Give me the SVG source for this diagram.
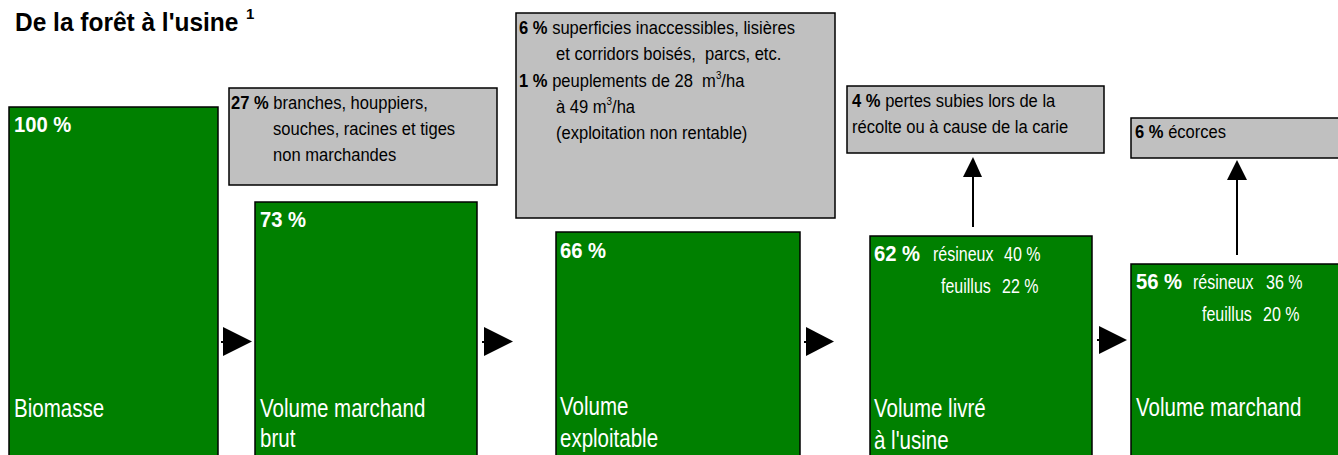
<svg xmlns="http://www.w3.org/2000/svg" width="1338" height="455" viewBox="0 0 1338 455">
<style>
text{font-family:"Liberation Sans",Arial,sans-serif;}
.g{fill:#008000;stroke:#000;stroke-width:1.5}
.s{fill:#c0c0c0;stroke:#000;stroke-width:1.5}
.gt{fill:#fff;font-size:25.5px}
.gb{fill:#fff;font-size:22px;font-weight:bold}
.gs{fill:#fff;font-size:20px}
.st{fill:#000;font-size:18.5px}
.b{font-weight:bold}
.ln{stroke:#000;stroke-width:2;fill:none}
</style>
<text transform="translate(15,31) scale(0.96,1)" style="font-size:25.5px;font-weight:bold;fill:#000">De la forêt à l'usine</text>
<text x="246" y="19" style="font-size:15px;font-weight:bold;fill:#000">1</text>

<g id="n1">
<rect class="g" x="9" y="107" width="209" height="370"/>
<text class="gb" transform="translate(14,132) scale(0.92,1)">100 %</text>
<text class="gt" transform="translate(14,417) scale(0.805,1)">Biomasse</text>
</g>
<g id="l1">
<rect class="s" x="229" y="88" width="268" height="97"/>
<text class="st" transform="translate(231,109) scale(0.895,1)"><tspan class="b">27 %</tspan> branches, houppiers,</text>
<text class="st" transform="translate(273,135) scale(0.895,1)">souches, racines et tiges</text>
<text class="st" transform="translate(273,161) scale(0.895,1)">non marchandes</text>
</g>
<g id="n2">
<rect class="g" x="255" y="202" width="222" height="275"/>
<text class="gb" transform="translate(260,227) scale(0.92,1)">73 %</text>
<text class="gt" transform="translate(260,417) scale(0.805,1)">Volume marchand</text>
<text class="gt" transform="translate(260,447) scale(0.805,1)">brut</text>
</g>
<g id="l2">
<rect class="s" x="516" y="13" width="319" height="205"/>
<text class="st" transform="translate(519,34) scale(0.895,1)"><tspan class="b">6 %</tspan> superficies inaccessibles, lisières</text>
<text class="st" xml:space="preserve" transform="translate(556,60) scale(0.895,1)">et corridors boisés,  parcs, etc.</text>
<text class="st" xml:space="preserve" transform="translate(519,87) scale(0.895,1)"><tspan class="b">1 %</tspan> peuplements de 28  m<tspan dy="-8" font-size="11">3</tspan><tspan dy="8">/ha</tspan></text>
<text class="st" transform="translate(556,113) scale(0.895,1)">à 49 m<tspan dy="-8" font-size="11">3</tspan><tspan dy="8">/ha</tspan></text>
<text class="st" transform="translate(556,139) scale(0.895,1)">(exploitation non rentable)</text>
</g>
<g id="n3">
<rect class="g" x="556" y="232" width="244" height="245"/>
<text class="gb" transform="translate(560,258) scale(0.92,1)">66 %</text>
<text class="gt" transform="translate(560,415) scale(0.805,1)">Volume</text>
<text class="gt" transform="translate(560,447) scale(0.805,1)">exploitable</text>
</g>
<g id="l3">
<rect class="s" x="847" y="86" width="257" height="67"/>
<text class="st" transform="translate(852,107) scale(0.895,1)"><tspan class="b">4 %</tspan> pertes subies lors de la</text>
<text class="st" transform="translate(852,133) scale(0.895,1)">récolte ou à cause de la carie</text>
</g>
<g id="n4">
<rect class="g" x="870" y="236" width="222" height="241"/>
<text class="gb" transform="translate(874,260.5) scale(0.92,1)">62 %</text>
<text class="gs" transform="translate(933,260.5) scale(0.8,1)">résineux</text>
<text class="gs" transform="translate(1004,260.5) scale(0.8,1)">40 %</text>
<text class="gs" transform="translate(941,293) scale(0.8,1)">feuillus</text>
<text class="gs" transform="translate(1002,293) scale(0.8,1)">22 %</text>
<text class="gt" transform="translate(874,417) scale(0.805,1)">Volume livré</text>
<text class="gt" transform="translate(874,449) scale(0.805,1)">à l'usine</text>
</g>
<g id="l4">
<rect class="s" x="1131" y="118" width="220" height="40"/>
<text class="st" transform="translate(1135,138) scale(0.895,1)"><tspan class="b">6 %</tspan> écorces</text>
</g>
<g id="n5">
<rect class="g" x="1131" y="264" width="220" height="213"/>
<text class="gb" transform="translate(1136,289) scale(0.92,1)">56 %</text>
<text class="gs" transform="translate(1193,289) scale(0.8,1)">résineux</text>
<text class="gs" transform="translate(1266,289) scale(0.8,1)">36 %</text>
<text class="gs" transform="translate(1202,321) scale(0.8,1)">feuillus</text>
<text class="gs" transform="translate(1263,321) scale(0.8,1)">20 %</text>
<text class="gt" transform="translate(1136,416) scale(0.805,1)">Volume marchand</text>
</g>
<g id="connectors">
<line x1="221" y1="342" x2="223" y2="342" class="ln"/>
<path d="M223,327 L252,341.5 L223,356 Z" fill="#000"/>
<line x1="482" y1="342" x2="484" y2="342" class="ln"/>
<path d="M484,327 L513,341.5 L484,356 Z" fill="#000"/>
<line x1="804" y1="342" x2="806" y2="342" class="ln"/>
<path d="M806,327 L834,341.5 L806,356 Z" fill="#000"/>
<line x1="1097" y1="340" x2="1099" y2="340" class="ln"/>
<path d="M1099,326 L1127,340 L1099,354 Z" fill="#000"/>
<line x1="973" y1="227" x2="973" y2="176" class="ln"/>
<path d="M963,177 L973,157 L982,177 Z" fill="#000"/>
<line x1="1237" y1="255" x2="1237" y2="179" class="ln"/>
<path d="M1227,180 L1237,160 L1247,180 Z" fill="#000"/>
</g>
</svg>
